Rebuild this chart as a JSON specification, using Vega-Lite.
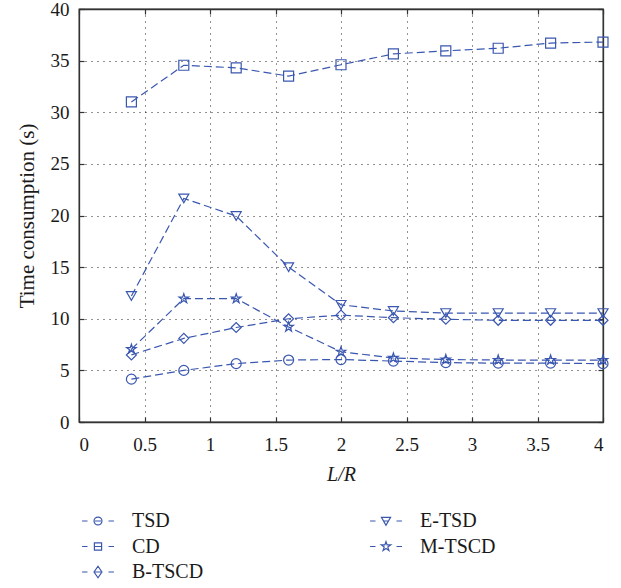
{
  "$schema": "https://vega.github.io/schema/vega-lite/v6.json",
  "width": 524,
  "height": 413,
  "autosize": {"type": "none"},
  "padding": {"left": 79, "top": 9, "right": 18, "bottom": 166},
  "background": "white",
  "config": {
    "font": "Liberation Serif",
    "view": {"stroke": "#333", "strokeWidth": 1.3},
    "axis": {
      "labelFont": "Liberation Serif",
      "titleFont": "Liberation Serif",
      "labelFontSize": 19,
      "titleFontSize": 21,
      "labelColor": "#1a1a1a",
      "titleColor": "#1a1a1a",
      "titleFontWeight": "normal",
      "domainColor": "#333",
      "domainWidth": 1.3,
      "tickColor": "#333",
      "tickWidth": 1.2,
      "tickSize": -5,
      "gridColor": "#000",
      "gridDash": [1, 5],
      "gridWidth": 1,
      "gridOpacity": 0.85
    },
    "legend": {
      "labelFont": "Liberation Serif",
      "labelFontSize": 20,
      "labelColor": "#1a1a1a"
    }
  },
  "data": {
    "values": [
      {"x": 0.4, "y": 4.15, "s": "TSD"},
      {"x": 0.8, "y": 5.0, "s": "TSD"},
      {"x": 1.2, "y": 5.65, "s": "TSD"},
      {"x": 1.6, "y": 6.0, "s": "TSD"},
      {"x": 2.0, "y": 6.05, "s": "TSD"},
      {"x": 2.4, "y": 5.9, "s": "TSD"},
      {"x": 2.8, "y": 5.75, "s": "TSD"},
      {"x": 3.2, "y": 5.7, "s": "TSD"},
      {"x": 3.6, "y": 5.7, "s": "TSD"},
      {"x": 4.0, "y": 5.65, "s": "TSD"},
      {"x": 0.4, "y": 31.0, "s": "CD"},
      {"x": 0.8, "y": 34.55, "s": "CD"},
      {"x": 1.2, "y": 34.3, "s": "CD"},
      {"x": 1.6, "y": 33.5, "s": "CD"},
      {"x": 2.0, "y": 34.6, "s": "CD"},
      {"x": 2.4, "y": 35.65, "s": "CD"},
      {"x": 2.8, "y": 35.95, "s": "CD"},
      {"x": 3.2, "y": 36.2, "s": "CD"},
      {"x": 3.6, "y": 36.7, "s": "CD"},
      {"x": 4.0, "y": 36.8, "s": "CD"},
      {"x": 0.4, "y": 6.5, "s": "B-TSCD"},
      {"x": 0.8, "y": 8.1, "s": "B-TSCD"},
      {"x": 1.2, "y": 9.15, "s": "B-TSCD"},
      {"x": 1.6, "y": 10.0, "s": "B-TSCD"},
      {"x": 2.0, "y": 10.35, "s": "B-TSCD"},
      {"x": 2.4, "y": 10.1, "s": "B-TSCD"},
      {"x": 2.8, "y": 9.95, "s": "B-TSCD"},
      {"x": 3.2, "y": 9.85, "s": "B-TSCD"},
      {"x": 3.6, "y": 9.85, "s": "B-TSCD"},
      {"x": 4.0, "y": 9.85, "s": "B-TSCD"},
      {"x": 0.4, "y": 12.2, "s": "E-TSD"},
      {"x": 0.8, "y": 21.65, "s": "E-TSD"},
      {"x": 1.2, "y": 19.95, "s": "E-TSD"},
      {"x": 1.6, "y": 15.0, "s": "E-TSD"},
      {"x": 2.0, "y": 11.35, "s": "E-TSD"},
      {"x": 2.4, "y": 10.75, "s": "E-TSD"},
      {"x": 2.8, "y": 10.55, "s": "E-TSD"},
      {"x": 3.2, "y": 10.55, "s": "E-TSD"},
      {"x": 3.6, "y": 10.55, "s": "E-TSD"},
      {"x": 4.0, "y": 10.55, "s": "E-TSD"},
      {"x": 0.4, "y": 7.05, "s": "M-TSCD"},
      {"x": 0.8, "y": 11.95, "s": "M-TSCD"},
      {"x": 1.2, "y": 11.95, "s": "M-TSCD"},
      {"x": 1.6, "y": 9.2, "s": "M-TSCD"},
      {"x": 2.0, "y": 6.8, "s": "M-TSCD"},
      {"x": 2.4, "y": 6.2, "s": "M-TSCD"},
      {"x": 2.8, "y": 6.05, "s": "M-TSCD"},
      {"x": 3.2, "y": 6.0, "s": "M-TSCD"},
      {"x": 3.6, "y": 6.0, "s": "M-TSCD"},
      {"x": 4.0, "y": 6.0, "s": "M-TSCD"}
    ]
  },
  "layer": [
    {
      "mark": {"type": "line", "color": "#3a57b0", "strokeWidth": 1.2, "strokeDash": [8, 4]},
      "encoding": {
        "x": {
          "field": "x", "type": "quantitative",
          "scale": {"domain": [0, 4], "nice": false},
          "axis": {"orient": "bottom", "values": [0, 0.5, 1, 1.5, 2, 2.5, 3, 3.5, 4], "format": "~g", "grid": true, "labelPadding": 18, "title": "L/R", "titleFontSize": 20, "titleFontStyle": "italic", "titlePadding": 10}
        },
        "y": {
          "field": "y", "type": "quantitative",
          "scale": {"domain": [0, 40], "nice": false},
          "axis": {"orient": "left", "values": [0, 5, 10, 15, 20, 25, 30, 35, 40], "grid": true, "labelPadding": 15, "title": "Time consumption (s)", "titlePadding": 13}
        },
        "detail": {"field": "s"}
      }
    },
    {
      "mark": {"type": "point", "filled": false, "color": "#3a57b0", "strokeWidth": 1.2, "size": 100, "opacity": 1},
      "encoding": {
        "x": {
          "field": "x", "type": "quantitative",
          "axis": {"orient": "top", "values": [0, 0.5, 1, 1.5, 2, 2.5, 3, 3.5, 4], "labels": false, "grid": false, "title": null}
        },
        "y": {
          "field": "y", "type": "quantitative",
          "axis": {"orient": "right", "values": [0, 5, 10, 15, 20, 25, 30, 35, 40], "labels": false, "grid": false, "title": null}
        },
        "shape": {
          "field": "s", "type": "nominal",
          "scale": {
            "domain": ["TSD", "CD", "B-TSCD", "E-TSD", "M-TSCD"],
            "range": ["circle", "square", "diamond", "triangle-down", "M0,-1L0.225,-0.309L0.951,-0.309L0.363,0.118L0.588,0.809L0,0.382L-0.588,0.809L-0.363,0.118L-0.951,-0.309L-0.225,-0.309Z"]
          },
          "legend": null
        }
      }
    },
    {
      "transform": [{"filter": "datum.x < 0"}],
      "mark": {"type": "point", "filled": false, "color": "#3a57b0", "strokeWidth": 1.2, "opacity": 1},
      "encoding": {
        "shape": {
          "field": "s", "type": "nominal",
          "scale": {
            "domain": ["TSD", "CD", "B-TSCD", "E-TSD", "M-TSCD"],
            "range": [
              "M-1.33,0H-0.875M-0.25,0H0.25M0.875,0H1.33M0.33,0A0.33,0.33 0 1 1 -0.33,0A0.33,0.33 0 1 1 0.33,0Z",
              "M-1.33,0H-0.875M-0.25,0H0.25M0.875,0H1.33M-0.3,-0.3H0.3V0.3H-0.3Z",
              "M-1.33,0H-0.875M-0.25,0H0.25M0.875,0H1.33M0,-0.48L0.33,0L0,0.48L-0.33,0Z",
              "M-1.33,0H-0.875M-0.25,0H0.25M0.875,0H1.33M-0.38,-0.3H0.38L0,0.36Z",
              "M-1.33,0H-0.875M0.875,0H1.33M0,-0.41L0.093,-0.128L0.393,-0.128L0.15,0.049L0.243,0.334L0,0.158L-0.243,0.334L-0.15,0.049L-0.393,-0.128L-0.093,-0.128Z"
            ]
          },
          "legend": {
            "title": null,
            "orient": "none",
            "legendX": 6,
            "legendY": 499,
            "columns": 2,
            "columnPadding": 163,
            "rowPadding": 2.5,
            "padding": 0,
            "symbolSize": 576,
            "symbolStrokeWidth": 1.2,
            "symbolStrokeColor": "#3a57b0",
            "symbolFillColor": "transparent",
            "symbolOpacity": 1,
            "labelOffset": 21
          }
        }
      }
    }
  ],
  "resolve": {"axis": {"x": "independent", "y": "independent"}, "scale": {"shape": "independent"}}
}
